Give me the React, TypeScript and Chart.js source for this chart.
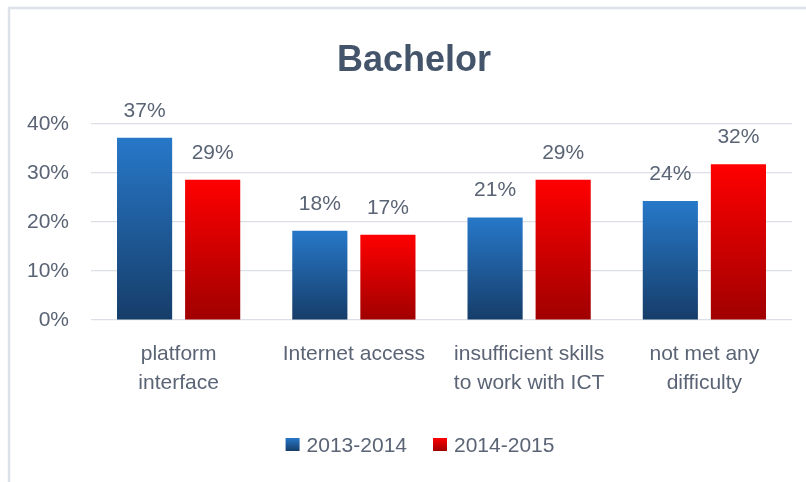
import React, { useEffect, useRef } from "react";
import { Chart, registerables } from "chart.js";

Chart.register(...registerables);

const categories: (string | string[])[] = [
  ["platform", "interface"],
  "Internet access",
  ["insufficient skills", "to work with ICT"],
  ["not met any", "difficulty"],
];
const series2013 = [37.2, 18.2, 20.9, 24.3];
const series2014 = [28.6, 17.4, 28.6, 31.8];
const seriesNames = ["2013-2014", "2014-2015"];
const yTicks = [0, 10, 20, 30, 40];
const titleText = "Bachelor";

const FONT = "'Liberation Sans', Arial, sans-serif";
const TEXT = "#5a6475";
const TITLE = "#44546a";
const BLUE = ["#2778c9", "#163d69"];
const RED = ["#ff0000", "#a00000"];

function barGradient(colors: string[]) {
  return (ctx: any) => {
    const chart = ctx.chart;
    const y = chart.scales && chart.scales.y;
    if (!chart.chartArea || !y || ctx.raw == null) return colors[0];
    const top = y.getPixelForValue(ctx.raw);
    const bottom = y.getPixelForValue(0);
    const g = chart.ctx.createLinearGradient(0, top, 0, bottom);
    g.addColorStop(0, colors[0]);
    g.addColorStop(1, colors[1]);
    return g;
  };
}

const framePlugin = {
  id: "frame",
  beforeDraw(chart: any) {
    const c = chart.ctx;
    c.save();
    c.fillStyle = "#ffffff";
    c.fillRect(0, 0, chart.width, chart.height);
    c.strokeStyle = "#dde2e9";
    c.lineWidth = 2.5;
    c.beginPath();
    c.moveTo(9, chart.height);
    c.lineTo(9, 8);
    c.lineTo(chart.width, 8);
    c.stroke();
    c.restore();
  },
};

const decorPlugin = {
  id: "decor",
  afterDatasetsDraw(chart: any) {
    const c = chart.ctx;
    c.save();
    // value labels
    c.font = `21px ${FONT}`;
    c.fillStyle = TEXT;
    c.textAlign = "center";
    c.textBaseline = "middle";
    chart.data.datasets.forEach((ds: any, di: number) => {
      const meta = chart.getDatasetMeta(di);
      meta.data.forEach((bar: any, i: number) => {
        const v = ds.data[i];
        c.fillText(Math.round(v) + "%", bar.x, bar.y - 27);
      });
    });
    // title
    c.font = `bold 36px ${FONT}`;
    c.fillStyle = TITLE;
    c.fillText(titleText, 414, 61);
    // legend
    c.font = `21px ${FONT}`;
    c.textAlign = "left";
    const box = 14;
    const gapBoxText = 7;
    const itemGap = 26;
    const cols = [BLUE, RED];
    const widths = seriesNames.map((n) => box + gapBoxText + c.measureText(n).width);
    const total = widths.reduce((a, b) => a + b, 0) + itemGap * (widths.length - 1);
    let x = 420 - total / 2;
    const cy = 445;
    seriesNames.forEach((n, i) => {
      const g = c.createLinearGradient(0, cy - 7, 0, cy + 6);
      g.addColorStop(0, cols[i][0]);
      g.addColorStop(1, cols[i][1]);
      c.fillStyle = g;
      c.fillRect(x, cy - 7, box, 13);
      c.fillStyle = TEXT;
      c.fillText(n, x + box + gapBoxText, cy + 1);
      x += widths[i] + itemGap;
    });
    c.restore();
  },
};

export default function App() {
  const ref = useRef<HTMLCanvasElement>(null);

  useEffect(() => {
    document.body.style.margin = "0";
    const canvas = ref.current!;
    const chart = new Chart(canvas, {
      type: "bar",
      data: {
        labels: categories,
        datasets: [
          {
            label: seriesNames[0],
            data: series2013,
            backgroundColor: barGradient(BLUE),
            categoryPercentage: 0.777,
            barPercentage: 0.81,
          },
          {
            label: seriesNames[1],
            data: series2014,
            backgroundColor: barGradient(RED),
            categoryPercentage: 0.777,
            barPercentage: 0.81,
          },
        ],
      },
      options: {
        responsive: false,
        animation: false,
        layout: { padding: { top: 124, bottom: 57, left: 0, right: 14 } },
        plugins: {
          legend: { display: false },
          title: { display: false },
          tooltip: { enabled: false },
        },
        scales: {
          x: {
            grid: { display: false, drawTicks: false },
            border: { display: false },
            ticks: {
              color: TEXT,
              font: { family: FONT, size: 21, lineHeight: 1.38 },
              padding: 20,
              maxRotation: 0,
              autoSkip: false,
            },
            afterFit(scale: any) {
              scale.height = 105;
            },
          },
          y: {
            min: yTicks[0],
            max: yTicks[yTicks.length - 1],
            afterBuildTicks(scale: any) {
              scale.ticks = yTicks.map((v) => ({ value: v }));
            },
            grid: { color: "#dce0e6", lineWidth: 1.2, drawTicks: false },
            border: { display: false },
            ticks: {
              color: TEXT,
              font: { family: FONT, size: 21 },
              padding: 22,
              callback: (v: any) => v + "%",
            },
            afterFit(scale: any) {
              scale.width = 91;
            },
          },
        },
      },
      plugins: [framePlugin, decorPlugin],
    });
    return () => chart.destroy();
  }, []);

  return (
    <div style={{ width: 806, height: 482, position: "relative" }}>
      <canvas ref={ref} width={806} height={482} style={{ width: 806, height: 482, display: "block" }} />
    </div>
  );
}
